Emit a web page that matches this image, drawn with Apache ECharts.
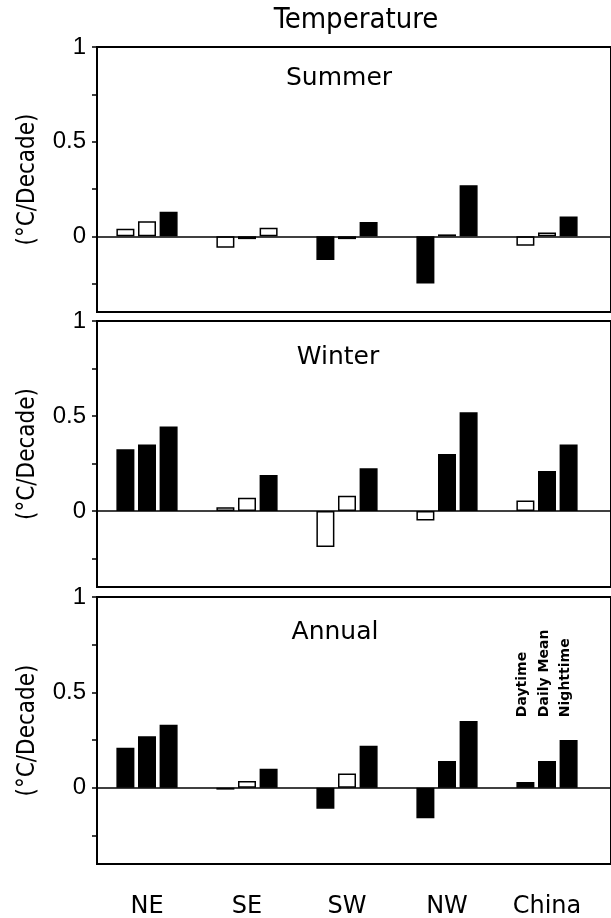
<!DOCTYPE html>
<html>
<head>
<meta charset="utf-8">
<script src="https://cdn.jsdelivr.net/npm/echarts@6.0.0/dist/echarts.min.js"></script>
<style>
  html, body { margin: 0; padding: 0; background: #fff; }
  #chart { width: 611px; height: 918px; }
</style>
</head>
<body>
<div id="chart"></div>
<script>
// regions along the x axis, three bars each
const regions = ['NE', 'SE', 'SW', 'NW', 'China']
const barNames = ['Daytime', 'Daily Mean', 'Nighttime']
const panelNames = ['Summer', 'Winter', 'Annual']

// trends in °C/decade, one value per region
const summerDay   = [0.04, -0.06, -0.125, -0.25, -0.05]
const summerMean  = [0.08, -0.015, -0.015, 0.01, 0.02]
const summerNight = [0.13, 0.045, 0.075, 0.27, 0.105]
const winterDay   = [0.325, 0.02, -0.19, -0.05, 0.055]
const winterMean  = [0.35, 0.07, 0.08, 0.30, 0.21]
const winterNight = [0.445, 0.19, 0.225, 0.52, 0.35]
const annualDay   = [0.21, -0.01, -0.11, -0.16, 0.03]
const annualMean  = [0.27, 0.035, 0.075, 0.14, 0.14]
const annualNight = [0.33, 0.10, 0.22, 0.35, 0.25]

// 1 = solid (black) bar, 0 = open bar
const summerDaySolid   = [0, 0, 1, 1, 0]
const summerMeanSolid  = [0, 0, 0, 0, 0]
const summerNightSolid = [1, 0, 1, 1, 1]
const winterDaySolid   = [1, 0, 0, 0, 0]
const winterMeanSolid  = [1, 0, 0, 1, 1]
const winterNightSolid = [1, 1, 1, 1, 1]
const annualDaySolid   = [1, 0, 1, 1, 1]
const annualMeanSolid  = [1, 0, 0, 1, 1]
const annualNightSolid = [1, 1, 1, 1, 1]

// y axis ticks
const yMin = -0.4
const yMax = 1
const tickValues = [-0.25, 0, 0.25, 0.5, 0.75, 1]
const tickLabels = [0, 0.5, 1]
const legendAnchor = 0.37 // where the rotated bar names start (annual, China)

const panelValues = [
  [summerDay, summerMean, summerNight],
  [winterDay, winterMean, winterNight],
  [annualDay, annualMean, annualNight],
]
const panelSolid = [
  [summerDaySolid, summerMeanSolid, summerNightSolid],
  [winterDaySolid, winterMeanSolid, winterNightSolid],
  [annualDaySolid, annualMeanSolid, annualNightSolid],
]

// layout
const GRID_LEFT = 97
const GRID_WIDTH = 514
const PX_PER_REGION = 100
const gridBoxes = [
  { top: 47, height: 265 },
  { top: 321, height: 266 },
  { top: 597, height: 267 },
]
const panelTitleX = [339, 338, 335]
const panelTitleTop = [66, 345, 620]

const GEO = "'DejaVu Sans Condensed', 'DejaVu Sans', sans-serif"

const chart = echarts.init(document.getElementById('chart'), null, { renderer: 'canvas' })

const grids = gridBoxes.map((b) => ({
  left: GRID_LEFT,
  width: GRID_WIDTH,
  top: b.top,
  height: b.height,
  show: true,
  borderColor: '#000',
  borderWidth: 2,
  backgroundColor: 'transparent',
  outerBoundsMode: 'none',
  containLabel: false,
}))

const xAxes = panelNames.map((_, g) => ({
  type: 'value',
  gridIndex: g,
  min: 0,
  max: GRID_WIDTH / PX_PER_REGION,
  interval: 0.5,
  axisLine: { show: false },
  axisTick: { show: false },
  splitLine: { show: false },
  axisLabel: {
    show: g === 2,
    margin: 31,
    color: '#000',
    fontFamily: "'DejaVu Sans', sans-serif",
    fontSize: 24,
    showMinLabel: false,
    showMaxLabel: false,
    formatter: (v) => ((Math.round(v * 2) % 2 === 1) ? regions[Math.floor(v)] : ''),
  },
}))

const yAxes = panelNames.map((_, g) => ({
  type: 'value',
  gridIndex: g,
  min: yMin,
  max: yMax,
  name: '(°C/Decade)',
  nameLocation: 'middle',
  nameGap: 57,
  nameTextStyle: { color: '#000', fontFamily: GEO, fontSize: 24 },
  axisLine: { show: true, lineStyle: { color: '#000', width: 2 } },
  axisTick: { show: true, inside: false, length: 5, lineStyle: { color: '#000', width: 1.5 }, customValues: tickValues },
  axisLabel: {
    color: '#000',
    fontFamily: "'Liberation Sans', Arial, sans-serif",
    fontSize: 24,
    margin: 11,
    customValues: tickLabels,
    formatter: (v) => String(v),
  },
  splitLine: { show: false },
}))

const series = []
panelValues.forEach((group, g) => {
  group.forEach((vals, s) => {
    const solid = panelSolid[g][s]
    series.push({
      type: 'bar',
      name: barNames[s],
      xAxisIndex: g,
      yAxisIndex: g,
      barWidth: 18,
      barGap: '20%',
      itemStyle: { borderColor: '#000', borderWidth: 1.5 },
      label: {
        show: false,
        formatter: barNames[s],
        color: '#000',
        fontFamily: "'DejaVu Sans', sans-serif",
        fontWeight: 'bold',
        fontSize: 14,
      },
      labelLayout: function (params) {
        if (g !== 2 || params.dataIndex !== 4) return {}
        const p = chart.convertToPixel({ gridIndex: 2 }, [0, legendAnchor])
        return {
          x: params.rect.x + params.rect.width / 2 - 3,
          y: p[1],
          align: 'left',
          verticalAlign: 'middle',
          rotate: 90,
        }
      },
      data: vals.map((v, i) => ({
        value: [i + 0.5, v],
        itemStyle: { color: solid[i] ? '#000' : '#fff' },
        label: g === 2 && i === 4 ? { show: true } : undefined,
      })),
      markLine: s === 0 ? {
        silent: true,
        symbol: ['none', 'none'],
        label: { show: false },
        lineStyle: { color: '#000', width: 1.5, type: 'solid' },
        data: [{ yAxis: 0 }],
      } : undefined,
    })
  })
})

const titles = [{
  text: 'Temperature',
  left: 356,
  top: 6,
  padding: 0,
  textAlign: 'center',
  textStyle: { color: '#000', fontFamily: GEO, fontSize: 29, fontWeight: 'normal' },
}].concat(panelNames.map((name, g) => ({
  text: name,
  left: panelTitleX[g],
  top: panelTitleTop[g],
  padding: 0,
  textAlign: 'center',
  textStyle: { color: '#000', fontFamily: "'DejaVu Sans', sans-serif", fontSize: 25, fontWeight: 'normal' },
})))

chart.setOption({
  animation: false,
  backgroundColor: '#fff',
  title: titles,
  grid: grids,
  xAxis: xAxes,
  yAxis: yAxes,
  series,
})
</script>
</body>
</html>
